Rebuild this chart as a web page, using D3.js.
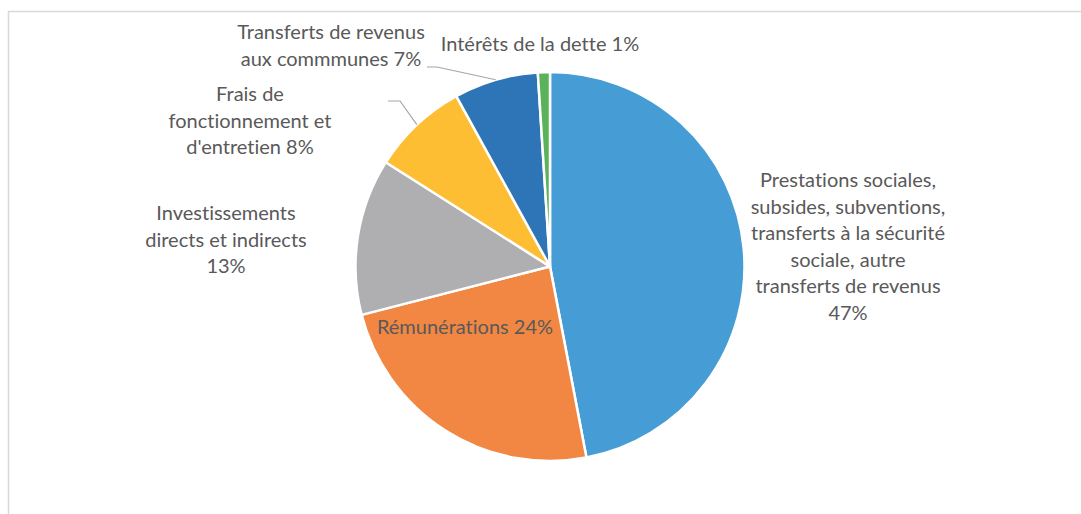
<!DOCTYPE html>
<html>
<head>
<meta charset="utf-8">
<script src="https://d3js.org/d3.v7.min.js"></script>
<style>
  body { margin: 0; background: #fff; }
  .lbl { font-family: Lato, "Open Sans", sans-serif; font-size: 20px; fill: #595959;
         font-variant-ligatures: none; font-feature-settings: "liga" 0; }
</style>
</head>
<body>
<div id="chart"></div>
<script>
// data
const categories = [
  "Prestations sociales, subsides, subventions, transferts à la sécurité sociale, autre transferts de revenus",
  "Rémunérations",
  "Investissements directs et indirects",
  "Frais de fonctionnement et d'entretien",
  "Transferts de revenus aux commmunes",
  "Intérêts de la dette"
];
const values = [47, 24, 13, 8, 7, 1];
const labelLines = [
  ["Prestations sociales,", "subsides, subventions,", "transferts à la sécurité", "sociale, autre", "transferts de revenus", "47%"],
  ["Rémunérations 24%"],
  ["Investissements", "directs et indirects", "13%"],
  ["Frais de", "fonctionnement et", "d'entretien 8%"],
  ["Transferts de revenus", "aux commmunes 7%"],
  ["Intérêts de la dette 1%"]
];
const colors = ["#469CD5", "#F28743", "#AFAFB2", "#FEBE33", "#2E75B7", "#5BB25A"];

// layout
const W = 1081, H = 514;
const cx = 550, cy = 266.5, R = 194.5;
const lineH = 26.6;
// label block: centre x, first baseline y, optional leader elbow
const labelPos = [
  {x: 848, y: 187},
  {x: 465, y: 334},
  {x: 226, y: 220},
  {x: 250, y: 101, elbow: [[388, 101], [400, 101]]},
  {x: 331, y: 39, elbow: [[427, 67], [437, 67]]},
  {x: 540, y: 51}
];

const svg = d3.select("#chart").append("svg")
  .attr("width", W).attr("height", H);

// chart frame
svg.append("path")
  .attr("d", "M8.5," + H + "V11.5H" + W)
  .attr("fill", "none").attr("stroke", "#d9d9d9").attr("stroke-width", 1.5);

const pie = d3.pie().sort(null).value(d => d);
const arcs = pie(values);
const arc = d3.arc().innerRadius(0).outerRadius(R);

const g = svg.append("g").attr("transform", "translate(" + cx + "," + cy + ")");
g.selectAll("path.slice")
  .data(arcs)
  .enter().append("path")
  .attr("class", "slice")
  .attr("d", arc)
  .attr("fill", (d, i) => colors[i])
  .attr("stroke", "#fff")
  .attr("stroke-width", 2.5)
  .attr("stroke-linejoin", "round");

// leader lines
arcs.forEach((a, i) => {
  const p = labelPos[i];
  if (!p.elbow) return;
  const mid = (a.startAngle + a.endAngle) / 2;
  const end = [cx + R * Math.sin(mid), cy - R * Math.cos(mid)];
  svg.append("path")
    .attr("d", d3.line()(p.elbow.concat([end])))
    .attr("fill", "none")
    .attr("stroke", "#A6A6A6")
    .attr("stroke-width", 1.2);
});

// labels
labelLines.forEach((lines, i) => {
  const p = labelPos[i];
  const t = svg.append("text").attr("class", "lbl").attr("text-anchor", "middle");
  lines.forEach((s, j) => {
    t.append("tspan").attr("x", p.x).attr("y", p.y + j * lineH).text(s);
  });
});
</script>
</body>
</html>
